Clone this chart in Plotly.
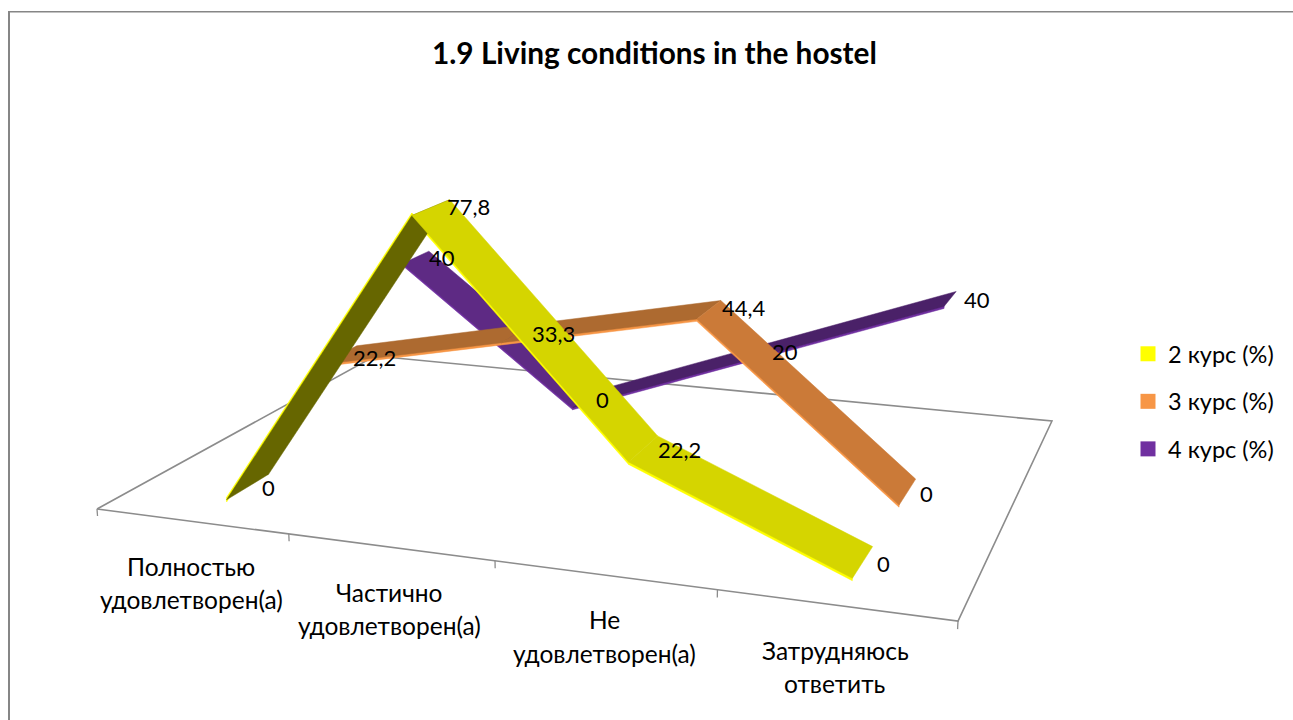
import numpy as np
import plotly.graph_objects as go

# ---- data ----
TITLE = "1.9 Living conditions in the hostel"
CATEGORIES = ["Полностью<br>удовлетворен(а)", "Частично<br>удовлетворен(а)",
              "Не<br>удовлетворен(а)", "Затрудняюсь<br>ответить"]
SERIES_NAMES = ["2 курс (%)", "3 курс (%)", "4 курс (%)"]
KURS_2 = [0, 77.8, 22.2, 0]
KURS_3 = [22.2, 33.3, 44.4, 0]
KURS_4 = [40, 0, 20, 40]
SERIES_VALUES = [KURS_2, KURS_3, KURS_4]

# ---- styling ----
FONT = "Lato, 'Noto Sans', sans-serif"
EDGE = ["#ffff00", "#f79646", "#7030a0"]
FALLING = ["#d5d500", "#cb7a38", "#5e2a84"]
RISING = ["#666600", "#ad6a30", "#4a2168"]
LEGEND_COL = ["#ffff00", "#f79646", "#7030a0"]
GRID = "#8c8c8c"
BAND = [(0.108, 0.246), (0.447, 0.585), (0.785, 0.905)]  # depth of each ribbon on the floor
EDGE_T = 0.6
LABEL_NUDGE = [[(-9, 13), (-5, 7), (-2, 14), (2, 17)],
               [(-6, 12), (-2, 9), (-1, 7), (2, 14)],
               [(-2, 6), (0, 8), (2, 8), (6, 8)]]

# ---- oblique perspective camera: (category u, depth t, value v) -> page position ----
CAM = np.array([[726.6 / 4, 387.2, -0.329, 97.0],
                [24.9 / 4, -49.3, -4.0, 509.0],
                [-0.1403 / 4, 0.2913, -0.000545, 1.0]])


def proj(u, t, v):
    q = CAM @ np.array([u, t, v, 1.0])
    return q[0] / q[2], q[1] / q[2]


fig = go.Figure()


def poly(pts, color):
    xy = [proj(*p) for p in pts]
    fig.add_trace(go.Scatter(x=[p[0] for p in xy] + [xy[0][0]], y=[p[1] for p in xy] + [xy[0][1]],
                             mode="lines", fill="toself", fillcolor=color, line=dict(width=0.5, color=color),
                             hoverinfo="skip", showlegend=False))


def polyline(pts, color, width):
    xy = [proj(*p) for p in pts]
    fig.add_trace(go.Scatter(x=[p[0] for p in xy], y=[p[1] for p in xy], mode="lines",
                             line=dict(width=width, color=color), hoverinfo="skip", showlegend=False))


# floor outline and ticks
n = len(CATEGORIES)
polyline([(0, 0, 0), (n, 0, 0), (n, 1, 0), (0, 1, 0), (0, 0, 0)], GRID, 1.6)
for i in range(n + 1):
    polyline([(i, 0, 0), (i, 0, -1.9)], GRID, 1.3)

# ribbons, back to front
for s in range(len(SERIES_VALUES) - 1, -1, -1):
    vals = SERIES_VALUES[s]
    t0, t1 = BAND[s]
    for i in range(n - 1):
        a, b = i + 0.5, i + 1.5
        va, vb = vals[i], vals[i + 1]
        poly([(a, t0, va + EDGE_T), (b, t0, vb + EDGE_T), (b, t0, vb - EDGE_T), (a, t0, va - EDGE_T)], EDGE[s])
    for i in range(n - 1):
        a, b = i + 0.5, i + 1.5
        va, vb = vals[i], vals[i + 1]
        poly([(a, t0, va), (b, t0, vb), (b, t1, vb), (a, t1, va)], RISING[s] if vb > va else FALLING[s])

# legend
for s, name in enumerate(SERIES_NAMES):
    fig.add_trace(go.Scatter(x=[None], y=[None], mode="markers", name=name, legendgroup=name,
                             marker=dict(symbol="square", size=15, color=LEGEND_COL[s])))

ann = []
for s, vals in enumerate(SERIES_VALUES):
    for i, v in enumerate(vals):
        x, y = proj(i + 0.5, BAND[s][1], v)
        dx, dy = LABEL_NUDGE[s][i]
        ann.append(dict(x=x, y=y, xshift=dx, yshift=-dy, text=f"{v:g}".replace(".", ","), showarrow=False,
                        xanchor="left", yanchor="middle", font=dict(family=FONT, size=22, color="#000")))
for i, cat in enumerate(CATEGORIES):
    x, y = proj(i + 0.5, 0, 0)
    for j, line in enumerate(cat.split("<br>")):
        ann.append(dict(x=x, y=y, yshift=-(45 + 33.5 * j), text=line, showarrow=False, xanchor="center",
                        yanchor="middle", font=dict(family=FONT, size=24.5, color="#000")))
ann.append(dict(x=654, y=52, text=TITLE, showarrow=False, xanchor="center", yanchor="middle",
                font=dict(family=FONT, size=29.8, color="#000", weight="bold")))

fig.update_layout(
    width=1293, height=720, margin=dict(l=0, r=0, t=0, b=0),
    paper_bgcolor="white", plot_bgcolor="white",
    xaxis=dict(range=[0, 1293], visible=False, fixedrange=True),
    yaxis=dict(range=[720, 0], visible=False, fixedrange=True),
    annotations=ann,
    shapes=[dict(type="line", xref="x", yref="y", x0=9, x1=9, y0=11, y1=720, line=dict(color="#868686", width=2)),
            dict(type="line", xref="x", yref="y", x0=8, x1=1293, y0=11.75, y1=11.75, line=dict(color="#868686", width=1.5))],
    legend=dict(x=1128 / 1293, y=1 - 332 / 720, xanchor="left", yanchor="top", tracegroupgap=14,
                bgcolor="rgba(0,0,0,0)", font=dict(family=FONT, size=23.5, color="#000"), itemclick=False, itemdoubleclick=False),
    showlegend=True,
)
fig.write_html("out.html", config=dict(displayModeBar=False),
               post_script="document.body.style.margin='0';document.body.style.overflow='hidden';")
